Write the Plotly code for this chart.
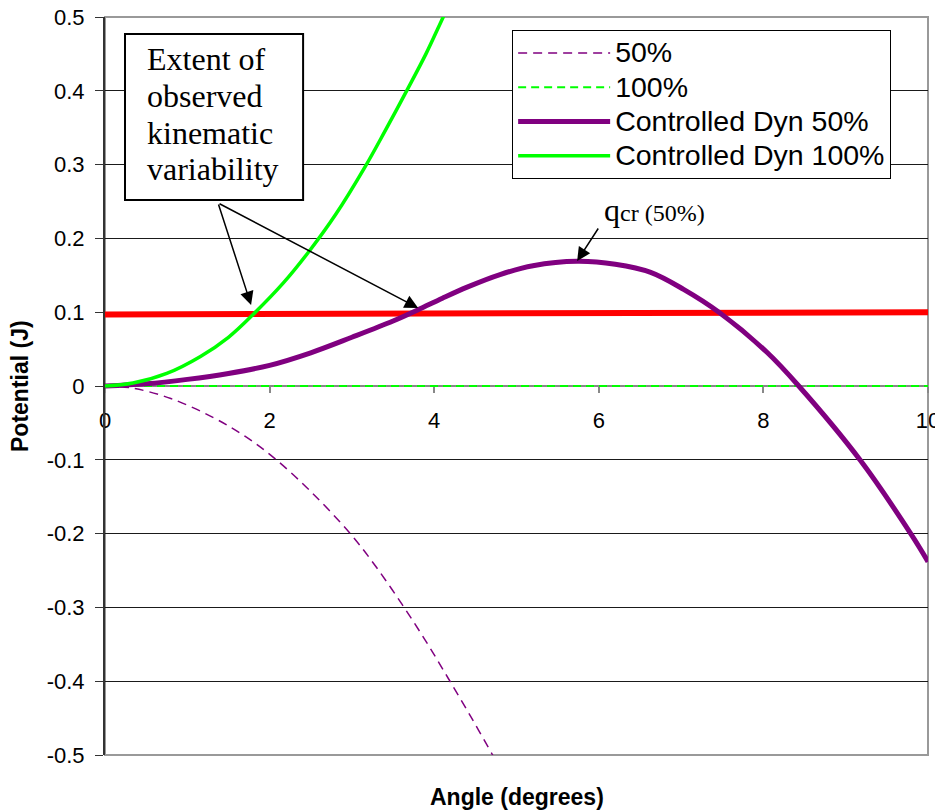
import plotly.graph_objects as go

# ---- data ----
x_50 = [0, 0.34, 0.8, 1.32, 1.7, 2.05, 2.5, 2.98, 3.3, 3.61, 3.9, 4.17, 4.45, 4.71, 4.8]
y_50 = [0, -0.003, -0.017, -0.043, -0.068, -0.097, -0.143, -0.2, -0.246, -0.296, -0.346, -0.396, -0.449, -0.5, -0.518]

x_100 = [0, 10]
y_100 = [0, 0]

x_cd50 = [0, 0.5, 1, 1.5, 2, 2.5, 3, 3.5, 3.8, 4.1, 4.4, 4.8, 5.2, 5.74, 6.2, 6.63,
          7.03, 7.46, 8.04, 8.43, 9.18, 9.79, 10]
y_cd50 = [0, 0.003, 0.009, 0.017, 0.028, 0.045, 0.066, 0.088, 0.103, 0.119, 0.134, 0.151, 0.163, 0.169, 0.165, 0.154,
          0.131, 0.1, 0.046, 0.0, -0.101, -0.2, -0.238]

x_cd100 = [0, 0.34, 0.75, 1.16, 1.5, 1.8, 2.17, 2.49, 2.8, 3.16, 3.4, 3.67, 3.9, 4.11, 4.3]
y_cd100 = [0, 0.004, 0.017, 0.04, 0.066, 0.097, 0.14, 0.184, 0.232, 0.297, 0.345, 0.401, 0.45, 0.5, 0.545]

x_red = [0, 10]
y_red = [0.097, 0.100]

y_tickvals = [0.5, 0.4, 0.3, 0.2, 0.1, 0, -0.1, -0.2, -0.3, -0.4, -0.5]
y_ticktext = ["0.5", "0.4", "0.3", "0.2", "0.1", "0", "-0.1", "-0.2", "-0.3", "-0.4", "-0.5"]
x_tickvals = [0, 2, 4, 6, 8, 10]
x_ticktext = ["0", "2", "4", "6", "8", "10"]

series_names = ["50%", "100%", "Controlled Dyn 50%", "Controlled Dyn 100%"]
box_lines = ["Extent of", "observed", "kinematic", "variability"]

SANS = "Liberation Sans, Arial, sans-serif"
SERIF = "Liberation Serif, Times New Roman, serif"
PURPLE = "#800080"
GREEN = "#00ff00"


def legend_name(s):
    # larger glyphs than the legend's base font so rows stay as tight as the reference
    return "<span style='font-size:28.5px'>" + s + "</span>"


fig = go.Figure()
fig.add_trace(go.Scatter(x=x_red, y=y_red, mode="lines", showlegend=False,
                         line=dict(color="#ff0000", width=6)))
fig.add_trace(go.Scatter(x=x_50, y=y_50, mode="lines", name=legend_name(series_names[0]),
                         line=dict(color=PURPLE, width=1.5, dash="9px,6px", shape="spline", smoothing=1)))
fig.add_trace(go.Scatter(x=x_100, y=y_100, mode="lines", name=legend_name(series_names[1]),
                         line=dict(color=GREEN, width=2, dash="8px,5px")))
fig.add_trace(go.Scatter(x=x_cd50, y=y_cd50, mode="lines", name=legend_name(series_names[2]),
                         line=dict(color=PURPLE, width=5, shape="spline", smoothing=1)))
fig.add_trace(go.Scatter(x=x_cd100, y=y_cd100, mode="lines", name=legend_name(series_names[3]),
                         line=dict(color=GREEN, width=3.5, shape="spline", smoothing=1)))

# page body has an 8px margin, so the figure is 8px smaller and offset
fig.update_layout(
    width=935, height=804,
    margin=dict(l=97, r=15, t=9, b=57, autoexpand=False),
    paper_bgcolor="white", plot_bgcolor="white",
    font=dict(family=SANS, color="black"),
    xaxis=dict(range=[0, 10], anchor="free", position=0.5, showgrid=False, zeroline=False,
               showline=True, linecolor="#888", linewidth=2, ticks="outside", ticklen=6,
               tickcolor="#888", tickwidth=1.5, tickvals=x_tickvals, ticktext=x_ticktext,
               tickfont=dict(size=22, family=SANS, color="black"), ticklabelstandoff=9,
               layer="below traces", automargin=False, ticklabeloverflow="allow"),
    yaxis=dict(range=[-0.5, 0.5], showgrid=True, gridcolor="#1a1a1a", gridwidth=1, zeroline=False,
               showline=True, linecolor="#333", linewidth=2, ticks="outside", ticklen=8,
               tickcolor="#333", tickvals=y_tickvals, ticktext=y_ticktext,
               tickfont=dict(size=22, family=SANS, color="black"), ticklabelstandoff=6,
               automargin=False, ticklabeloverflow="allow"),
    legend=dict(x=0.4947, y=0.9824, xanchor="left", yanchor="top", bgcolor="white",
                bordercolor="black", borderwidth=1, font=dict(size=24, family=SANS, color="black"),
                itemwidth=92, tracegroupgap=0),
    shapes=[
        dict(type="rect", xref="paper", yref="paper", x0=0, x1=1, y0=0, y1=1,
             line=dict(color="#999", width=2), layer="between"),
        dict(type="rect", xref="x", yref="y", x0=0.243, x1=2.407, y0=0.252, y1=0.477,
             line=dict(color="black", width=2), fillcolor="white", layer="above"),
    ],
)

ann = []
ann.append(dict(text="Angle (degrees)", xref="paper", yref="paper", x=0.5, y=-0.0569,
                xanchor="center", yanchor="middle",
                showarrow=False, font=dict(size=23, family=SANS, color="black", weight="bold")))
ann.append(dict(text="Potential (J)", xref="paper", yref="paper", x=-0.1033, y=0.5, textangle=-90,
                xanchor="center", yanchor="middle",
                showarrow=False, font=dict(size=23, family=SANS, color="black", weight="bold")))
for line_text, ly in zip(box_lines, [0.4431, 0.3930, 0.3428, 0.2940]):
    ann.append(dict(text=line_text, xref="x", yref="y", x=0.486, y=ly, xanchor="left",
                    yanchor="middle", showarrow=False,
                    font=dict(size=32, family=SERIF, color="black")))
ann.append(dict(text="q<span style='font-size:24px'>cr (50%)</span>", xref="x", yref="y",
                x=6.04, y=0.238, xanchor="left", yanchor="middle", showarrow=False,
                font=dict(size=32, family=SERIF, color="black")))
for (hx, hy, tx, ty) in [(1.775, 0.1098, 1.3735, 0.248), (3.805, 0.1057, 1.3735, 0.248),
                         (5.737, 0.1694, 6.005, 0.2154)]:
    ann.append(dict(text="", x=hx, y=hy, ax=tx, ay=ty, xref="x", yref="y", axref="x", ayref="y",
                    showarrow=True, arrowhead=2, arrowsize=1.8, arrowwidth=1.5, arrowcolor="black",
                    standoff=0, startstandoff=0))
fig.update_layout(annotations=ann)

fig.write_html("out.html")
